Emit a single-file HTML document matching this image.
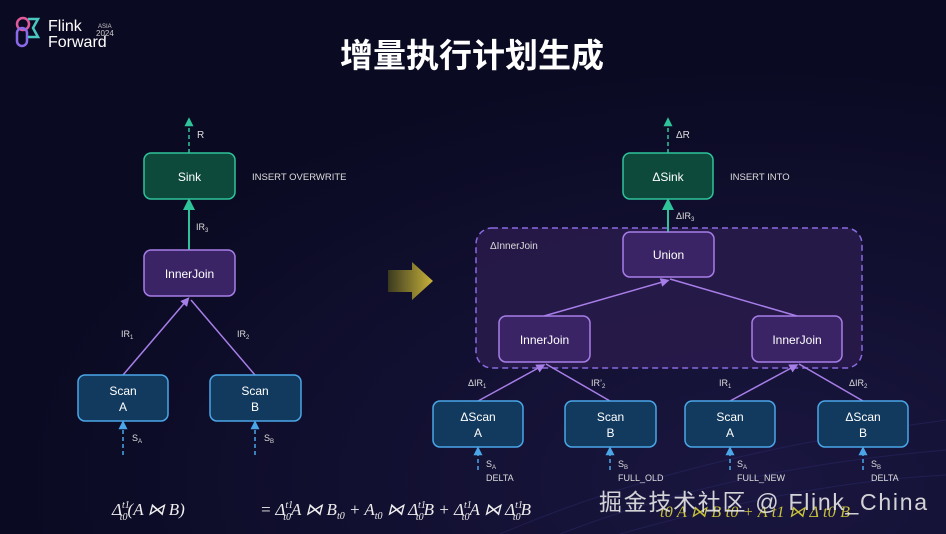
<!DOCTYPE html><html><head><meta charset="utf-8"><style>
html,body{margin:0;padding:0;width:946px;height:534px;overflow:hidden;background:#0a0a22;font-family:"Liberation Sans","Noto Sans CJK SC",sans-serif}
</style></head><body>
<svg width="946" height="534" viewBox="0 0 946 534" xmlns="http://www.w3.org/2000/svg" font-family="Liberation Sans, Noto Sans CJK SC, sans-serif">
<defs>
<radialGradient id="bg" cx="0.8" cy="0.9" r="0.8"><stop offset="0" stop-color="#1a1640"/><stop offset="1" stop-color="#0a0a22"/></radialGradient>
<marker id="ag" markerWidth="7" markerHeight="7" refX="3.5" refY="3.5" orient="auto"><path d="M0,0.5 L6,3.5 L0,6.5z" fill="#2fc39a"/></marker>
<marker id="ap" markerWidth="7" markerHeight="7" refX="3.5" refY="3.5" orient="auto"><path d="M0,0.5 L6,3.5 L0,6.5z" fill="#a77ee8"/></marker>
<marker id="ab" markerWidth="7" markerHeight="7" refX="3.5" refY="3.5" orient="auto"><path d="M0,0.5 L6,3.5 L0,6.5z" fill="#4ba6e8"/></marker>
<linearGradient id="arr" x1="0" x2="1"><stop offset="0" stop-color="#3a3a20"/><stop offset="1" stop-color="#c9b23a"/></linearGradient>
</defs>
<rect width="946" height="534" fill="url(#bg)"/>
<g stroke="#2a2a6a" stroke-width="1" opacity="0.5" fill="none">
<path d="M500,534 C650,470 800,440 946,420"/><path d="M560,534 C700,480 830,460 946,450"/><path d="M620,534 C740,500 850,480 946,475"/>
</g>
<g stroke-width="2.5" fill="none"><circle cx="23" cy="24" r="6" stroke="#e05a9a"/><rect x="17" y="28" width="10" height="18" rx="5" stroke="#8a6ae8"/><path d="M28,19 L38,19 L33,28 L38,37 L28,37" stroke="#4ac7c0"/></g>
<text x="48" y="31" fill="#fff" font-size="16">Flink</text><text x="48" y="47" fill="#fff" font-size="16">Forward</text>
<text x="98" y="28" fill="#ccc" font-size="6">ASIA</text><text x="96" y="36" fill="#ccc" font-size="8">2024</text>
<text x="472" y="67" fill="#fff" font-size="33" font-weight="bold" text-anchor="middle">增量执行计划生成</text>
<line x1="189" y1="153" x2="189" y2="121" stroke="#2fc39a" stroke-width="1.5" stroke-dasharray="4,3" marker-end="url(#ag)"/>
<text x="197" y="138" fill="#ddd" font-size="10">R</text>
<line x1="189" y1="250" x2="189" y2="203" stroke="#2fc39a" stroke-width="2" marker-end="url(#ag)"/>
<text x="196" y="230" fill="#ddd" font-size="9">IR<tspan font-size="6" dy="2">3</tspan></text>
<line x1="123" y1="375" x2="187" y2="300" stroke="#a77ee8" stroke-width="1.5" marker-end="url(#ap)"/>
<line x1="255" y1="375" x2="191" y2="300" stroke="#a77ee8" stroke-width="1.5"/>
<text x="121" y="337" fill="#ddd" font-size="9">IR<tspan font-size="6" dy="2">1</tspan></text>
<text x="237" y="337" fill="#ddd" font-size="9">IR<tspan font-size="6" dy="2">2</tspan></text>
<line x1="123" y1="455" x2="123" y2="424" stroke="#4ba6e8" stroke-width="1.5" stroke-dasharray="4,3" marker-end="url(#ab)"/>
<line x1="255" y1="455" x2="255" y2="424" stroke="#4ba6e8" stroke-width="1.5" stroke-dasharray="4,3" marker-end="url(#ab)"/>
<text x="132" y="441" fill="#ddd" font-size="9">S<tspan font-size="6" dy="2">A</tspan></text>
<text x="264" y="441" fill="#ddd" font-size="9">S<tspan font-size="6" dy="2">B</tspan></text>
<rect x="144" y="153" width="91" height="46" rx="7" fill="#0e4a3c" stroke="#2fc39a" stroke-width="1.5"/>
<text x="189.5" y="181" fill="#fff" font-size="12" text-anchor="middle">Sink</text>
<text x="252" y="180" fill="#ddd" font-size="9.5">INSERT OVERWRITE</text>
<rect x="144" y="250" width="91" height="46" rx="7" fill="#3a2466" stroke="#a77ee8" stroke-width="1.5"/>
<text x="189.5" y="278" fill="#fff" font-size="12" text-anchor="middle">InnerJoin</text>
<g fill="#123a5e" stroke="#4ba6e8" stroke-width="1.5"><rect x="78" y="375" width="90" height="46" rx="7"/><rect x="210" y="375" width="91" height="46" rx="7"/></g>
<g fill="#fff" font-size="12" text-anchor="middle"><text x="123" y="395">Scan</text><text x="123" y="411">A</text><text x="255" y="395">Scan</text><text x="255" y="411">B</text></g>
<path d="M388,270 L412,270 L412,262 L433,281 L412,300 L412,292 L388,292z" fill="url(#arr)"/>
<rect x="476" y="228" width="386" height="140" rx="16" fill="#2a1c4e" fill-opacity="0.8" stroke="#8a6ae0" stroke-width="1.5" stroke-dasharray="6,4"/>
<text x="490" y="249" fill="#ddd" font-size="10">ΔInnerJoin</text>
<line x1="668" y1="153" x2="668" y2="121" stroke="#2fc39a" stroke-width="1.5" stroke-dasharray="4,3" marker-end="url(#ag)"/>
<text x="676" y="138" fill="#ddd" font-size="10">ΔR</text>
<line x1="668" y1="232" x2="668" y2="203" stroke="#2fc39a" stroke-width="2" marker-end="url(#ag)"/>
<text x="676" y="219" fill="#ddd" font-size="9">ΔIR<tspan font-size="6" dy="2">3</tspan></text>
<line x1="544" y1="316" x2="666" y2="281" stroke="#a77ee8" stroke-width="1.5" marker-end="url(#ap)"/>
<line x1="797" y1="316" x2="670" y2="279" stroke="#a77ee8" stroke-width="1.5"/>
<line x1="478" y1="401" x2="542" y2="366" stroke="#a77ee8" stroke-width="1.5" marker-end="url(#ap)"/>
<line x1="610" y1="401" x2="546" y2="364" stroke="#a77ee8" stroke-width="1.5"/>
<line x1="730" y1="401" x2="795" y2="366" stroke="#a77ee8" stroke-width="1.5" marker-end="url(#ap)"/>
<line x1="863" y1="401" x2="799" y2="364" stroke="#a77ee8" stroke-width="1.5"/>
<g fill="#ddd" font-size="9"><text x="468" y="386">ΔIR<tspan font-size="6" dy="2">1</tspan></text><text x="591" y="386">IR’<tspan font-size="6" dy="2">2</tspan></text><text x="719" y="386">IR<tspan font-size="6" dy="2">1</tspan></text><text x="849" y="386">ΔIR<tspan font-size="6" dy="2">2</tspan></text></g>
<rect x="623" y="153" width="90" height="46" rx="7" fill="#0e4a3c" stroke="#2fc39a" stroke-width="1.5"/>
<text x="668" y="181" fill="#fff" font-size="12" text-anchor="middle">ΔSink</text>
<text x="730" y="180" fill="#ddd" font-size="9.5">INSERT INTO</text>
<g fill="#3a2466" stroke="#a77ee8" stroke-width="1.5"><rect x="623" y="232" width="91" height="45" rx="7"/><rect x="499" y="316" width="91" height="46" rx="7"/><rect x="752" y="316" width="90" height="46" rx="7"/></g>
<g fill="#fff" font-size="12" text-anchor="middle"><text x="668.5" y="259">Union</text><text x="544.5" y="344">InnerJoin</text><text x="797" y="344">InnerJoin</text></g>
<g stroke="#4ba6e8" stroke-width="1.5" stroke-dasharray="4,3" marker-end="url(#ab)"><line x1="478" y1="470" x2="478" y2="450"/><line x1="610" y1="470" x2="610" y2="450"/><line x1="730" y1="470" x2="730" y2="450"/><line x1="863" y1="470" x2="863" y2="450"/></g>
<g fill="#123a5e" stroke="#4ba6e8" stroke-width="1.5"><rect x="433" y="401" width="90" height="46" rx="7"/><rect x="565" y="401" width="91" height="46" rx="7"/><rect x="685" y="401" width="90" height="46" rx="7"/><rect x="818" y="401" width="90" height="46" rx="7"/></g>
<g fill="#fff" font-size="12" text-anchor="middle"><text x="478" y="421">ΔScan</text><text x="478" y="437">A</text><text x="610.5" y="421">Scan</text><text x="610.5" y="437">B</text><text x="730" y="421">Scan</text><text x="730" y="437">A</text><text x="863" y="421">ΔScan</text><text x="863" y="437">B</text></g>
<g fill="#ddd" font-size="9"><text x="486" y="467">S<tspan font-size="6" dy="2">A</tspan></text><text x="486" y="481">DELTA</text><text x="618" y="467">S<tspan font-size="6" dy="2">B</tspan></text><text x="618" y="481">FULL_OLD</text><text x="737" y="467">S<tspan font-size="6" dy="2">A</tspan></text><text x="737" y="481">FULL_NEW</text><text x="871" y="467">S<tspan font-size="6" dy="2">B</tspan></text><text x="871" y="481">DELTA</text></g>
<g fill="#eee" font-family="Liberation Serif, serif" font-style="italic" font-size="17">
<text x="112" y="515">Δ<tspan font-size="10" dy="-7">t1</tspan><tspan font-size="10" dx="-10" dy="12">t0</tspan><tspan dy="-5">(A ⋈ B)</tspan></text>
<text x="260" y="515">= Δ<tspan font-size="10" dy="-7">t1</tspan><tspan font-size="10" dx="-10" dy="12">t0</tspan><tspan dy="-5">A ⋈ B</tspan><tspan font-size="10" dy="4">t0</tspan><tspan dy="-4"> + A</tspan><tspan font-size="10" dy="4">t0</tspan><tspan dy="-4"> ⋈ Δ</tspan><tspan font-size="10" dy="-7">t1</tspan><tspan font-size="10" dx="-10" dy="12">t0</tspan><tspan dy="-5">B + Δ</tspan><tspan font-size="10" dy="-7">t1</tspan><tspan font-size="10" dx="-10" dy="12">t0</tspan><tspan dy="-5">A ⋈ Δ</tspan><tspan font-size="10" dy="-7">t1</tspan><tspan font-size="10" dx="-10" dy="12">t0</tspan><tspan dy="-5">B</tspan></text>
<text x="660" y="517" fill="#c9c23a" font-size="16" textLength="190">t0 A ⋈ B t0 + A t1 ⋈ Δ t0 B</text>
</g>
<text x="599" y="510" fill="#e8e8e8" font-size="23" opacity="0.9" textLength="328">掘金技术社区 @ Flink_China</text>
</svg>
</body></html>
